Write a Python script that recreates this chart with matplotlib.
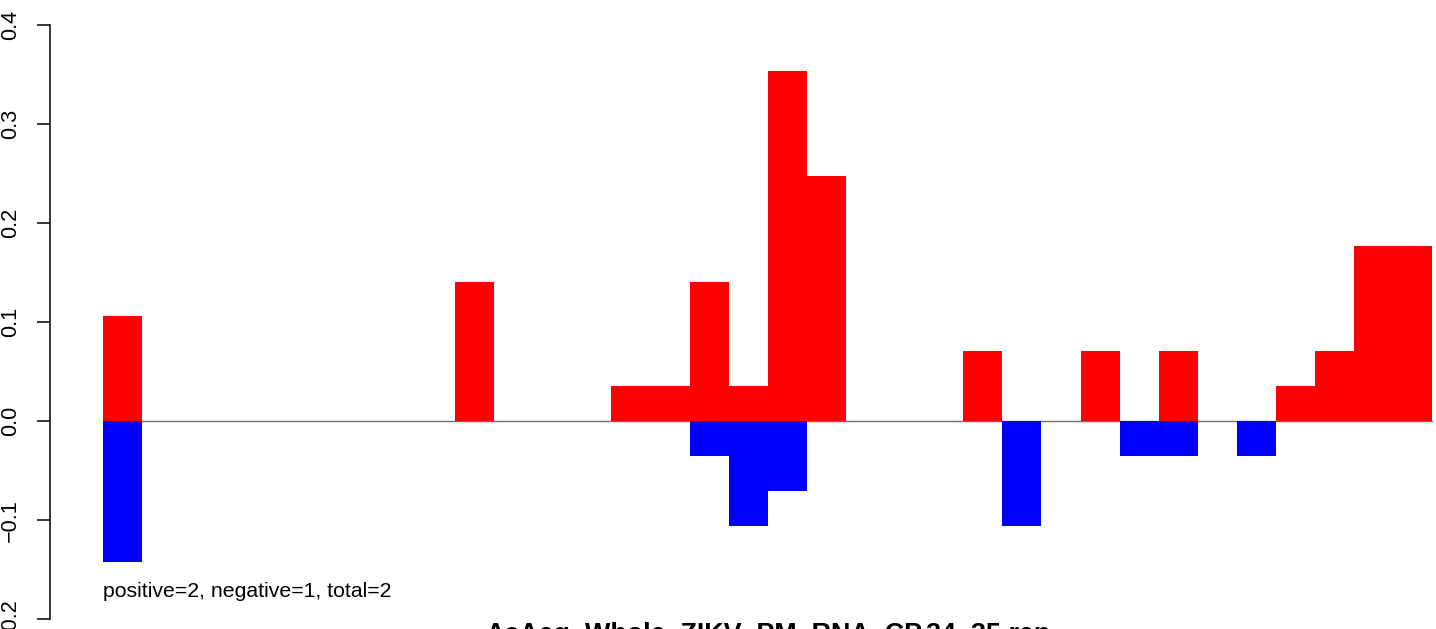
import numpy as np
import matplotlib
matplotlib.use("Agg")
import matplotlib.pyplot as plt

plt.rcParams['font.family'] = ['Liberation Sans', 'DejaVu Sans']

# dados (34 janelas)
n_bins = 34
pos_idx = [0, 9, 13, 14, 15, 16, 17, 18, 22, 25, 27, 30, 31, 32, 33]
pos_val = [0.106, 0.141, 0.0353, 0.0353, 0.141, 0.0353, 0.354, 0.248,
           0.0706, 0.0706, 0.0706, 0.0353, 0.0706, 0.1766, 0.1766]
neg_idx = [0, 15, 16, 17, 23, 26, 27, 29]
neg_val = [-0.142, -0.0353, -0.106, -0.0706, -0.106, -0.0353, -0.0353, -0.0353]
y_ticks = [-0.2, -0.1, 0.0, 0.1, 0.2, 0.3, 0.4]
y_labels = ['\u22120.2', '\u22120.1', '0.0', '0.1', '0.2', '0.3', '0.4']
note = "positive=2, negative=1, total=2"
title = "AeAeg_Whole_ZIKV_PM_RNA_CP.34_35.rep"

W, H = 1436, 629
PT = 72 / 100  # pixels -> points
fig = plt.figure(figsize=(W / 100, H / 100), dpi=100)
left, right = 103 / W, 1432.5 / W
top, bottom = 25 / H, 619.3 / H
ax = fig.add_axes([left, 1 - bottom, right - left, bottom - top])

ax.axhline(0, color='#6e6e6e', lw=1.0, zorder=1)
ax.bar(pos_idx, pos_val, width=1, align='edge', color='#ff0000', lw=0, zorder=2)
ax.bar(neg_idx, neg_val, width=1, align='edge', color='#0000ff', lw=0, zorder=2)

ax.set_xlim(0, n_bins)
ax.set_ylim(-0.2, 0.4)
for s in ['top', 'right', 'bottom']:
    ax.spines[s].set_visible(False)
ax.spines['left'].set_position(('outward', 53 * PT))
ax.spines['left'].set_linewidth(1.1)
ax.set_xticks([])
ax.set_yticks(y_ticks)
ax.set_yticklabels(y_labels, rotation=90, va='center', fontsize=15.6)
ax.tick_params(axis='y', length=13 * PT, width=1.1, pad=16 * PT)

ax.text(0, -0.1775, note, fontsize=15.3, ha='left', va='baseline')
fig.text(768 / W, 1 - 622 / H, title, fontsize=19.4, fontweight='bold',
         ha='center', va='top')

fig.savefig("out.png", dpi=100)
